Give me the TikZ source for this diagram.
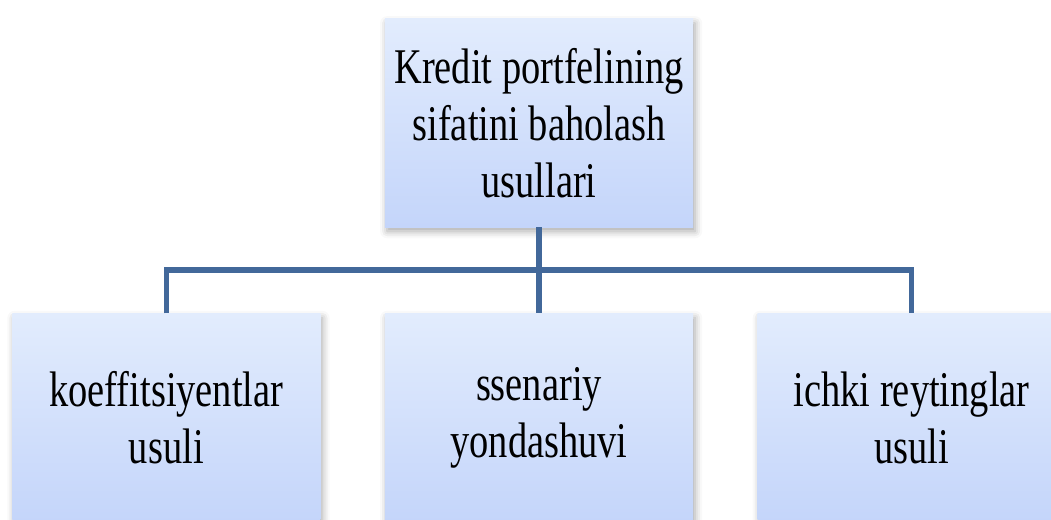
\documentclass[tikz,border=0pt]{standalone}
\usepackage{fontspec}
\setmainfont[FakeStretch=0.77]{Liberation Serif}
\usepackage{tikz}
\usetikzlibrary{positioning}
\usetikzlibrary{shadows.blur}

\definecolor{boxtop}{RGB}{226,236,253}
\definecolor{boxbot}{RGB}{196,213,250}
\definecolor{linkblue}{RGB}{66,104,154}

\tikzset{
  methodbox/.style={rectangle, minimum width=7.7cm, minimum height=5.2cm,
    top color=boxtop, bottom color=boxbot, align=center, inner sep=0pt,
    font=\fontsize{35.5}{40.5}\selectfont,
    blur shadow={shadow xshift=1.5pt, shadow yshift=-3pt, shadow blur radius=5pt, shadow opacity=35}},
  link/.style={draw=linkblue, line width=3.9pt}
}

\begin{document}
\begin{tikzpicture}[x=0.025cm,y=-0.025cm]
\useasboundingbox (0,0) rectangle (1051,519);
\node[methodbox] (root) at (539,123) {Kredit portfelining\\sifatini baholash\\usullari};
\node[methodbox, below=2.15cm of root] (ssen) {ssenariy\\yondashuvi};
\node[methodbox, left=1.6cm of ssen] (koef) {koeffitsiyentlar\\usuli};
\node[methodbox, right=1.6cm of ssen] (ichki) {ichki reytinglar\\usuli};
\coordinate (bus) at (539,270);
% connectors
\draw[link] (root.south) -- (ssen.north);
\draw[link] (koef.north) -- (koef.north |- bus) -- (ichki.north |- bus) -- (ichki.north);
\end{tikzpicture}
\end{document}
